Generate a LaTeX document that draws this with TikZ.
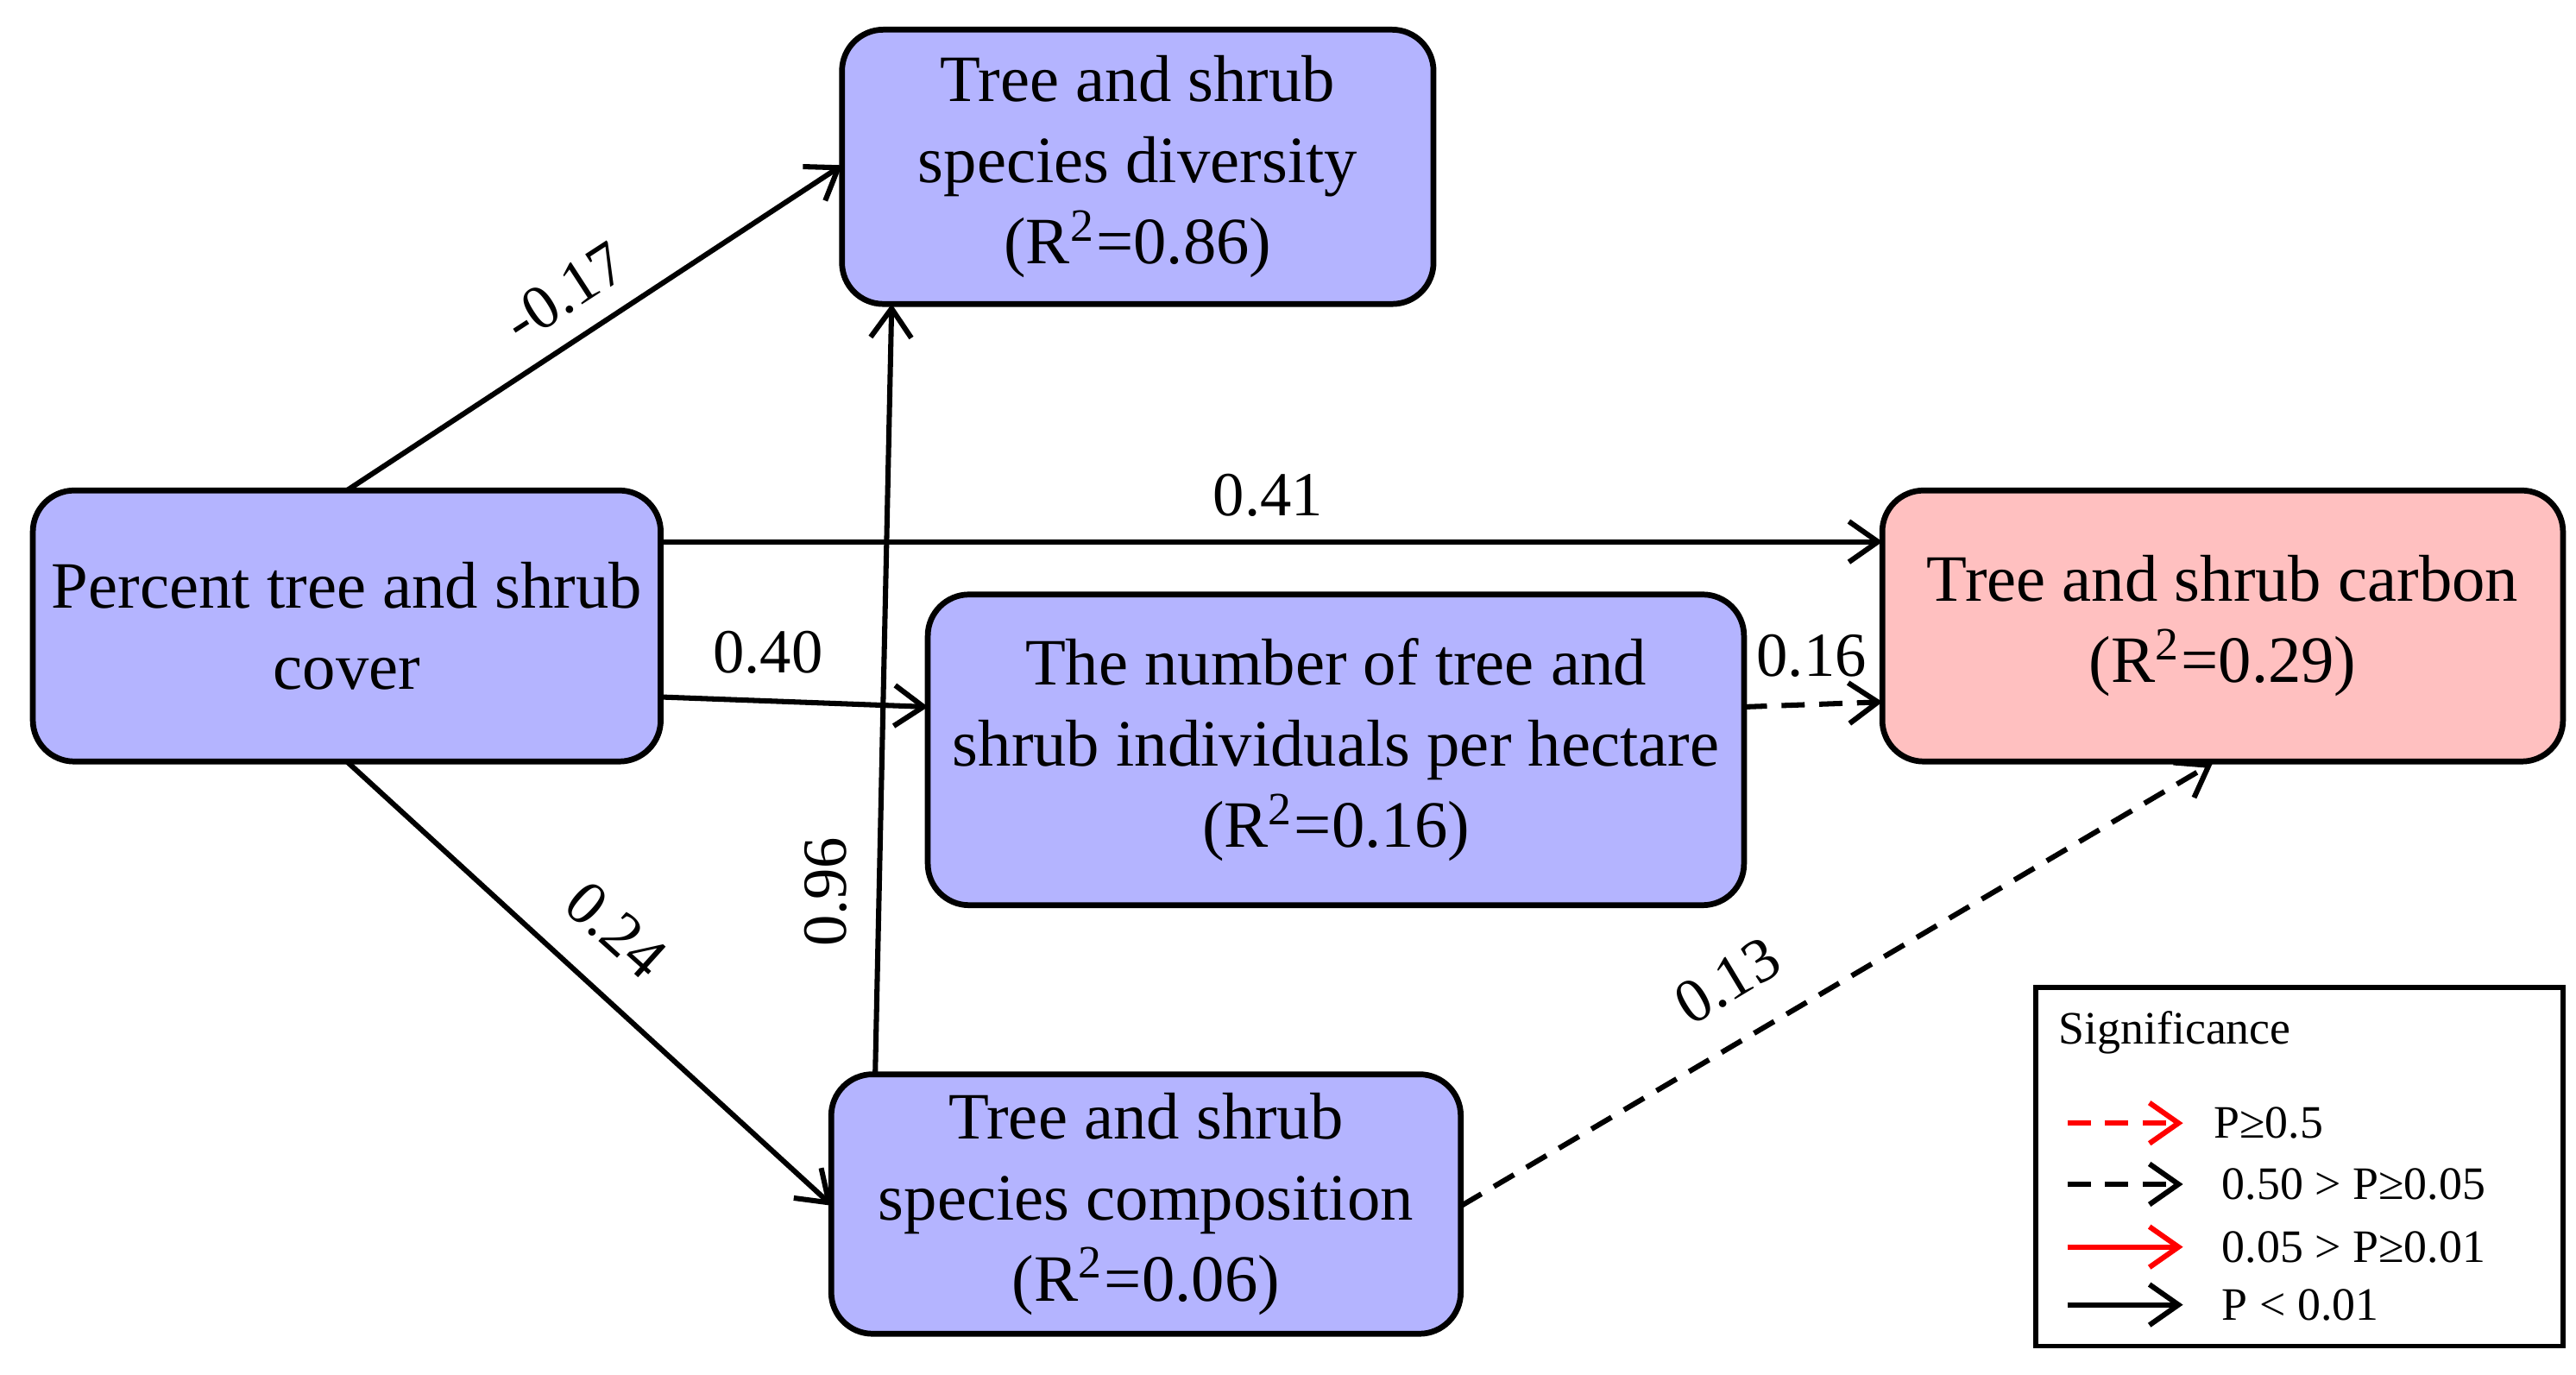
\documentclass[tikz,border=0pt]{standalone}
\usepackage{fontspec}
\setmainfont{Liberation Serif}
\usetikzlibrary{arrows.meta}
\definecolor{bluebox}{RGB}{180,180,255}
\definecolor{pinkbox}{RGB}{255,192,192}
\begin{document}
\begin{tikzpicture}[x=0.01cm,y=-0.01cm,
  box/.style={draw,line width=1pt,rounded corners=0.25cm,fill=bluebox,align=center,font=\fontsize{11.4}{14}\selectfont,inner sep=0pt},
  arr/.style={line width=0.9pt,-{Straight Barb[length=5pt,width=7pt,line width=0.9pt]}},
  darr/.style={arr,dash pattern=on 4pt off 2.5pt},
  lab/.style={font=\fontsize{10.8}{12}\selectfont,inner sep=1pt},
  leg/.style={font=\fontsize{8}{9}\selectfont,anchor=west,inner sep=0pt}]
\useasboundingbox (0,0) rectangle (1560,832.5);
\node[box,minimum width=3.58cm,minimum height=1.66cm] (div) at (689,101) {Tree and shrub\\ species diversity\\(R\textsuperscript{2}=0.86)};
\node[box,minimum width=3.80cm,minimum height=1.64cm] (pc) at (210,379) {Percent tree and shrub\\cover};
\node[box,minimum width=4.94cm,minimum height=1.88cm] (num) at (809,454) {The number of tree and\\shrub individuals per hectare\\(R\textsuperscript{2}=0.16)};
\node[box,minimum width=3.81cm,minimum height=1.57cm] (comp) at (694,729) {Tree and shrub\\species composition\\(R\textsuperscript{2}=0.06)};
\node[box,fill=pinkbox,minimum width=4.12cm,minimum height=1.64cm] (carb) at (1346,379) {Tree and shrub carbon\\(R\textsuperscript{2}=0.29)};
\coordinate (a1) at (210,297); \coordinate (b1) at (510,100);
\coordinate (a2) at (400,328); \coordinate (b2) at (1140,328);
\coordinate (a3) at (400,422); \coordinate (b3) at (562,428);
\coordinate (a4) at (210,461); \coordinate (b4) at (504,730);
\coordinate (a5) at (530,651); \coordinate (b5) at (540,184);
\coordinate (a6) at (1056,428); \coordinate (b6) at (1140,425);
\coordinate (a7) at (885,730); \coordinate (b7) at (1340,462);
\draw[arr] (a1) -- (b1);
\draw[arr] (a2) -- (b2);
\draw[arr] (a3) -- (b3);
\draw[arr] (a4) -- (b4);
\draw[arr] (a5) -- (b5);
\draw[darr] (a6) -- (b6);
\draw[darr] (a7) -- (b7);
\node[lab,rotate=33] (l1) at (342,177) {-0.17};
\node[lab] (l2) at (768,300) {0.41};
\node[lab] (l3) at (465,395) {0.40};
\node[lab,rotate=-42] (l4) at (373,563) {0.24};
\node[lab,rotate=90] (l5) at (500,540) {0.96};
\node[lab] (l6) at (1097,397) {0.16};
\node[lab,rotate=31] (l7) at (1046,594) {0.13};
\node[draw,line width=0.8pt,minimum width=3.19cm,minimum height=2.17cm,inner sep=0pt] (lg) at (1392.5,706.5) {};
\node[leg] (lt) at (1246,625) {Significance};
\coordinate (r1a) at (1252,680); \coordinate (r1b) at (1322,680);
\coordinate (r2a) at (1252,717); \coordinate (r2b) at (1322,717);
\coordinate (r3a) at (1252,755); \coordinate (r3b) at (1322,755);
\coordinate (r4a) at (1252,790); \coordinate (r4b) at (1322,790);
\draw[darr,red] (r1a) -- (r1b);
\draw[darr] (r2a) -- (r2b);
\draw[arr,red] (r3a) -- (r3b);
\draw[arr] (r4a) -- (r4b);
\node[leg] (t1) at (1340,680) {P≥0.5};
\node[leg] (t2) at (1345,717) {0.50 > P≥0.05};
\node[leg] (t3) at (1345,755) {0.05 > P≥0.01};
\node[leg] (t4) at (1345,790) {P < 0.01};
\end{tikzpicture}
\end{document}
